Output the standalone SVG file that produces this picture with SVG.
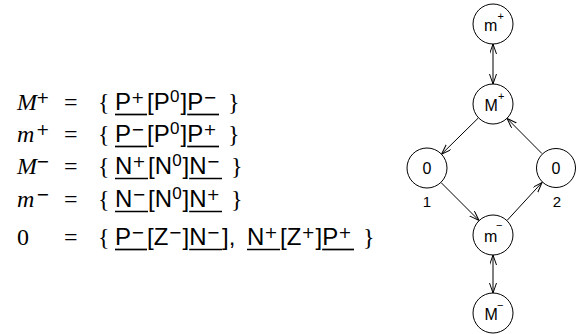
<svg xmlns="http://www.w3.org/2000/svg" width="576" height="334" viewBox="0 0 576 334">
<style>
.m{font-family:"Liberation Serif",serif;font-style:italic;font-size:24px}
.r{font-family:"Liberation Serif",serif;font-size:24px}
.s{font-family:"Liberation Sans",sans-serif;font-size:24px}
.pm{font-family:"DejaVu Sans",sans-serif;font-size:16px}
.z{font-family:"Liberation Sans",sans-serif;font-size:17px}
.ul{stroke:#000;stroke-width:1.7}
.nd circle{fill:#fff;stroke:#000;stroke-width:1}
.nd text,.lb{font-family:"Liberation Sans",sans-serif;font-size:16px}
.nd .sup{font-size:11px}
.lb{font-size:15px;text-anchor:middle}
.cn line{stroke:#000;stroke-width:1;marker-end:url(#ah)}
.cn line.bi{marker-start:url(#ah)}
</style>
<defs>
<marker id="ah" markerUnits="userSpaceOnUse" markerWidth="12" markerHeight="10" refX="10" refY="3.5" orient="auto-start-reverse">
<path d="M0,0 L10,3.5 L0,7" fill="none" stroke="#000" stroke-width="1"/>
</marker>
</defs>
<g id="equations">
<g id="row1">
<text class="m" x="17" y="110">M</text><text class="pm" x="36" y="103">+</text>
<text class="r" x="64" y="110">=</text><text class="r" x="98" y="110">{</text>
<text class="s" x="115" y="110">P</text><text class="pm" x="131" y="103">+</text>
<text class="s" x="147" y="110">[P</text><text class="z" x="170" y="102">0</text><text class="s" x="180.5" y="110">]P</text>
<text class="pm" x="203.2" y="103">−</text><text class="r" x="228" y="110">}</text>
<line class="ul" x1="115" y1="114.5" x2="147" y2="114.5"/><line class="ul" x1="187.2" y1="114.5" x2="219" y2="114.5"/>
</g>
<g id="row2">
<text class="m" x="17" y="142">m</text><text class="pm" x="36" y="135">+</text>
<text class="r" x="64" y="142">=</text><text class="r" x="98" y="142">{</text>
<text class="s" x="115" y="142">P</text><text class="pm" x="131" y="135">−</text>
<text class="s" x="147" y="142">[P</text><text class="z" x="170" y="134">0</text><text class="s" x="180.5" y="142">]P</text>
<text class="pm" x="203.2" y="135">+</text><text class="r" x="228" y="142">}</text>
<line class="ul" x1="115" y1="146.5" x2="147" y2="146.5"/><line class="ul" x1="187.2" y1="146.5" x2="219" y2="146.5"/>
</g>
<g id="row3">
<text class="m" x="17" y="174">M</text><text class="pm" x="36" y="167">−</text>
<text class="r" x="64" y="174">=</text><text class="r" x="98" y="174">{</text>
<text class="s" x="115" y="174">N</text><text class="pm" x="132.3" y="167">+</text>
<text class="s" x="148" y="174">[N</text><text class="z" x="172.3" y="166">0</text><text class="s" x="182.5" y="174">]N</text>
<text class="pm" x="206.5" y="167">−</text><text class="r" x="231" y="174">}</text>
<line class="ul" x1="115" y1="178.5" x2="148" y2="178.5"/><line class="ul" x1="189.2" y1="178.5" x2="222" y2="178.5"/>
</g>
<g id="row4">
<text class="m" x="17" y="207">m</text><text class="pm" x="36" y="200">−</text>
<text class="r" x="64" y="207">=</text><text class="r" x="98" y="207">{</text>
<text class="s" x="115" y="207">N</text><text class="pm" x="132.3" y="200">−</text>
<text class="s" x="148" y="207">[N</text><text class="z" x="172.3" y="199">0</text><text class="s" x="182.5" y="207">]N</text>
<text class="pm" x="206.5" y="200">+</text><text class="r" x="231" y="207">}</text>
<line class="ul" x1="115" y1="211.5" x2="148" y2="211.5"/><line class="ul" x1="189.2" y1="211.5" x2="222" y2="211.5"/>
</g>
<g id="row5">
<text class="r" x="17" y="245">0</text>
<text class="r" x="64" y="245">=</text><text class="r" x="98" y="245">{</text>
<text class="s" x="115" y="245">P</text><text class="pm" x="131" y="238">−</text>
<text class="s" x="147" y="245">[Z</text><text class="pm" x="168.4" y="238">−</text><text class="s" x="182.5" y="245">]N</text>
<text class="pm" x="206.5" y="238">−</text><text class="s" x="222" y="245">],</text>
<text class="s" x="247" y="245">N</text><text class="pm" x="264.3" y="238">+</text>
<text class="s" x="280" y="245">[Z</text><text class="pm" x="301.4" y="238">+</text><text class="s" x="315.5" y="245">]P</text>
<text class="pm" x="338.2" y="238">+</text><text class="r" x="363" y="245">}</text>
<line class="ul" x1="115" y1="249.5" x2="147" y2="249.5"/><line class="ul" x1="189.2" y1="249.5" x2="222" y2="249.5"/>
<line class="ul" x1="247" y1="249.5" x2="280" y2="249.5"/><line class="ul" x1="322.2" y1="249.5" x2="354" y2="249.5"/>
</g>
</g>
<g id="connectors" class="cn">
<line class="bi" x1="493" y1="44" x2="493" y2="84"/>
<line x1="478.5" y1="117.8" x2="441.5" y2="154.2"/>
<line x1="542" y1="153.6" x2="507" y2="118.4"/>
<line x1="441" y1="182.5" x2="479" y2="220.5"/>
<line x1="507" y1="220.5" x2="542" y2="182.5"/>
<line class="bi" x1="493" y1="255" x2="493" y2="293"/>
</g>
<g id="n_mplus" class="nd"><circle cx="493" cy="24" r="20"/><text x="484" y="31">m</text><text class="sup" x="497.5" y="20">+</text></g>
<g id="n_Mplus" class="nd"><circle cx="493" cy="104" r="20"/><text x="484.5" y="111">M</text><text class="sup" x="498" y="100">+</text></g>
<g id="n_zero1" class="nd"><circle cx="427" cy="168" r="20"/><text x="427" y="173.5" text-anchor="middle">0</text></g>
<g id="n_zero2" class="nd"><circle cx="556" cy="168" r="19.5"/><text x="556" y="173.5" text-anchor="middle">0</text></g>
<g id="n_mminus" class="nd"><circle cx="493" cy="235" r="20"/><text x="484" y="242">m</text><text class="sup" x="496" y="229">−</text></g>
<g id="n_Mminus" class="nd"><circle cx="493" cy="313" r="20"/><text x="484.5" y="320">M</text><text class="sup" x="497" y="309">−</text></g>
<text class="lb" x="427" y="207">1</text>
<text class="lb" x="557" y="207">2</text>
</svg>
